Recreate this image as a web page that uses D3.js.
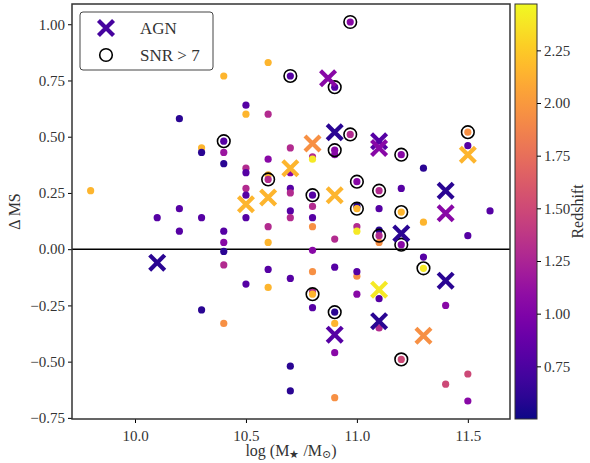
<!DOCTYPE html>
<html><head><meta charset="utf-8">
<script src="https://cdn.jsdelivr.net/npm/d3@7"></script>
<style>body{margin:0;background:#fff}text{font-family:"Liberation Serif","DejaVu Serif",serif}</style>
</head><body><svg id="c" width="590" height="463"></svg>
<script>
// colour codes: N navy, I indigo, P purple, M magenta, K pink, O orange, G gold, Y yellow
const zOf = {N:0.6, I:0.8, P:1.05, Q:1.15, M:1.3, K:1.5, O:1.95, G:2.15, Y:2.4};
// galaxies: [logM, dMS, colour, snr>7]
const galaxies = [
 [9.8,0.26,'G',0],
 [10.1,0.14,'I',0],
 [10.2,0.58,'N',0],[10.2,0.18,'I',0],[10.2,0.08,'I',0],
 [10.3,0.45,'G',0],[10.3,0.43,'N',0],[10.3,0.14,'I',0],[10.3,-0.27,'N',0],
 [10.4,0.77,'G',0],[10.4,0.48,'I',1],[10.4,0.43,'Q',0],[10.4,0.38,'N',0],[10.4,0.08,'I',0],[10.4,0.03,'P',0],[10.4,-0.01,'N',0],[10.4,-0.07,'M',0],[10.4,-0.33,'O',0],
 [10.5,0.64,'I',0],[10.5,0.60,'G',0],[10.5,0.36,'M',0],[10.5,0.34,'I',0],[10.5,0.27,'M',0],[10.5,0.24,'I',0],[10.5,0.14,'I',0],[10.5,-0.155,'I',0],
 [10.6,0.83,'G',0],[10.6,0.60,'M',0],[10.6,0.40,'P',0],[10.6,0.33,'G',0],[10.6,0.31,'M',1],[10.6,0.10,'M',0],[10.6,0.03,'G',0],[10.6,-0.09,'I',0],[10.6,-0.17,'G',0],
 [10.7,0.77,'I',1],[10.7,0.45,'M',0],[10.7,0.34,'P',0],[10.7,0.27,'I',0],[10.7,0.25,'M',0],[10.7,0.17,'I',0],[10.7,0.14,'M',0],[10.7,-0.13,'I',0],[10.7,-0.52,'N',0],[10.7,-0.63,'N',0],
 [10.8,0.41,'M',0],[10.8,0.40,'Y',0],[10.8,0.24,'I',1],[10.8,0.19,'M',0],[10.8,0.14,'I',0],[10.8,0.10,'O',0],[10.8,-0.005,'P',0],[10.8,-0.10,'O',0],[10.8,-0.19,'M',0],[10.8,-0.20,'G',1],[10.8,-0.26,'I',0],
 [10.9,0.72,'I',1],[10.9,0.42,'P',0],[10.9,0.44,'P',1],[10.9,0.045,'M',0],[10.9,-0.08,'I',0],[10.9,-0.28,'N',1],[10.9,-0.33,'G',0],[10.9,-0.46,'P',0],[10.9,-0.66,'O',0],
 [10.97,1.01,'P',1],[10.97,0.51,'M',1],
 [11.0,0.30,'P',1],[11.0,0.19,'N',0],[11.0,0.18,'G',1],[11.0,0.10,'M',0],[11.0,0.08,'Y',0],[11.0,-0.12,'O',0],[11.0,-0.10,'I',0],[11.0,-0.20,'P',0],
 [11.1,0.26,'M',1],[11.1,0.18,'I',0],[11.1,0.085,'N',0],[11.1,0.03,'O',0],[11.1,0.06,'M',1],[11.1,-0.22,'I',0],[11.1,-0.35,'M',0],
 [11.2,0.42,'P',1],[11.2,0.27,'I',0],[11.2,0.165,'G',1],[11.2,0.02,'P',1],[11.2,-0.49,'K',1],
 [11.3,0.36,'N',0],[11.3,0.12,'G',0],[11.3,-0.035,'I',0],[11.3,-0.085,'Y',1],
 [11.4,-0.25,'P',0],[11.4,-0.60,'K',0],
 [11.5,0.52,'O',1],[11.5,0.46,'I',0],[11.5,0.06,'I',0],[11.5,-0.555,'K',0],[11.5,-0.675,'P',0],
 [11.6,0.17,'I',0]
];
// AGN: [logM, dMS, colour]
const agn = [
 [10.1,-0.06,'N'],[10.5,0.20,'G'],[10.6,0.23,'G'],[10.7,0.36,'G'],[10.8,0.47,'O'],
 [10.87,0.76,'P'],[10.9,0.52,'N'],[10.9,0.24,'G'],[10.9,-0.38,'I'],
 [11.1,0.48,'I'],[11.1,0.45,'P'],[11.1,-0.18,'Y'],[11.1,-0.32,'N'],
 [11.2,0.07,'N'],[11.3,-0.385,'O'],[11.4,0.26,'N'],[11.4,0.16,'P'],[11.4,-0.14,'N'],[11.5,0.42,'G']
];
const xTicks = [10.0,10.5,11.0,11.5];
const yTicks = [-0.75,-0.50,-0.25,0.00,0.25,0.50,0.75,1.00];
const cTicks = [0.75,1.00,1.25,1.50,1.75,2.00,2.25];
const zMin = 0.5, zMax = 2.47;

const svg = d3.select('#c');
const L=72,R=510,T=4,B=419;
const x = d3.scaleLinear().domain([9.716,11.69]).range([L,R]);
const y = d3.scaleLinear().domain([-0.755,1.09]).range([B,T]);
const col = z => d3.interpolatePlasma((z-zMin)/(zMax-zMin));

svg.append('g').attr('transform',`translate(0,${B})`).call(d3.axisBottom(x).tickValues(xTicks).tickFormat(d3.format('.1f')).tickSize(4))
 .call(g=>g.selectAll('text').attr('font-size',15).attr('fill','#333').attr('dy','1.0em'));
svg.append('g').attr('transform',`translate(${L},0)`).call(d3.axisLeft(y).tickValues(yTicks).tickFormat(d3.format('.2f')).tickSize(4))
 .call(g=>g.selectAll('text').attr('font-size',15).attr('fill','#333'));
svg.selectAll('.domain').remove();

svg.append('line').attr('x1',L).attr('x2',R).attr('y1',y(0)).attr('y2',y(0)).attr('stroke','#000').attr('stroke-width',1.5);

svg.append('g').selectAll('circle').data(galaxies).join('circle')
 .attr('cx',d=>x(d[0])).attr('cy',d=>y(d[1])).attr('r',3.6).attr('fill',d=>col(zOf[d[2]]));
svg.append('g').selectAll('circle').data(galaxies.filter(d=>d[3])).join('circle')
 .attr('cx',d=>x(d[0])).attr('cy',d=>y(d[1])).attr('r',6.3).attr('fill','none').attr('stroke','#000').attr('stroke-width',1.6);
const cross = d3.symbol().type(d3.symbolX).size(150);
svg.append('g').selectAll('path').data(agn).join('path')
 .attr('transform',d=>`translate(${x(d[0])},${y(d[1])})`).attr('d',cross)
 .attr('fill','none').attr('stroke',d=>col(zOf[d[2]])).attr('stroke-width',4.2);

svg.append('rect').attr('x',L).attr('y',T).attr('width',R-L).attr('height',B-T).attr('fill','none').attr('stroke','#333').attr('stroke-width',1.5);

// legend
const lg = svg.append('g');
lg.append('rect').attr('x',80).attr('y',12).attr('width',133).attr('height',58).attr('rx',3).attr('fill','#fff').attr('stroke','#444').attr('stroke-width',1);
lg.append('path').attr('transform','translate(106,28)').attr('d',cross).attr('fill','none').attr('stroke',col(0.72)).attr('stroke-width',4.2);
lg.append('circle').attr('cx',106).attr('cy',55).attr('r',6.3).attr('fill','none').attr('stroke','#000').attr('stroke-width',1.6);
lg.append('text').attr('x',140).attr('y',34).attr('font-size',17).attr('fill','#333').text('AGN');
lg.append('text').attr('x',140).attr('y',61).attr('font-size',17).attr('fill','#333').text('SNR > 7');

// colorbar
const cx0=515,cw=22;
const cy = d3.scaleLinear().domain([zMin,zMax]).range([B,T]);
const defs = svg.append('defs');
const gr = defs.append('linearGradient').attr('id','pl').attr('x1',0).attr('x2',0).attr('y1',1).attr('y2',0);
d3.range(0,1.001,0.05).forEach(t=>gr.append('stop').attr('offset',t).attr('stop-color',d3.interpolatePlasma(t)));
svg.append('rect').attr('x',cx0).attr('y',T).attr('width',cw).attr('height',B-T).attr('fill','url(#pl)').attr('stroke','#333');
svg.append('g').attr('transform',`translate(${cx0+cw},0)`).call(d3.axisRight(cy).tickValues(cTicks).tickFormat(d3.format('.2f')).tickSize(4))
 .call(g=>g.selectAll('text').attr('font-size',15).attr('fill','#333')).call(g=>g.select('.domain').remove());

svg.append('text').attr('transform',`translate(583,${(T+B)/2}) rotate(-90)`).attr('text-anchor','middle').attr('font-size',16).attr('fill','#333').text('Redshift');
svg.append('text').attr('transform',`translate(20,${(T+B)/2}) rotate(-90)`).attr('text-anchor','middle').attr('font-size',16).attr('fill','#333').text('Δ MS');
svg.append('text').attr('x',(L+R)/2).attr('y',456).attr('text-anchor','middle').attr('font-size',16).attr('fill','#333')
 .html('log (M<tspan font-size="11" dy="2">★</tspan><tspan dy="-2"> /M</tspan><tspan font-size="11" dy="2">⊙</tspan><tspan dy="-2">)</tspan>');
</script></body></html>
